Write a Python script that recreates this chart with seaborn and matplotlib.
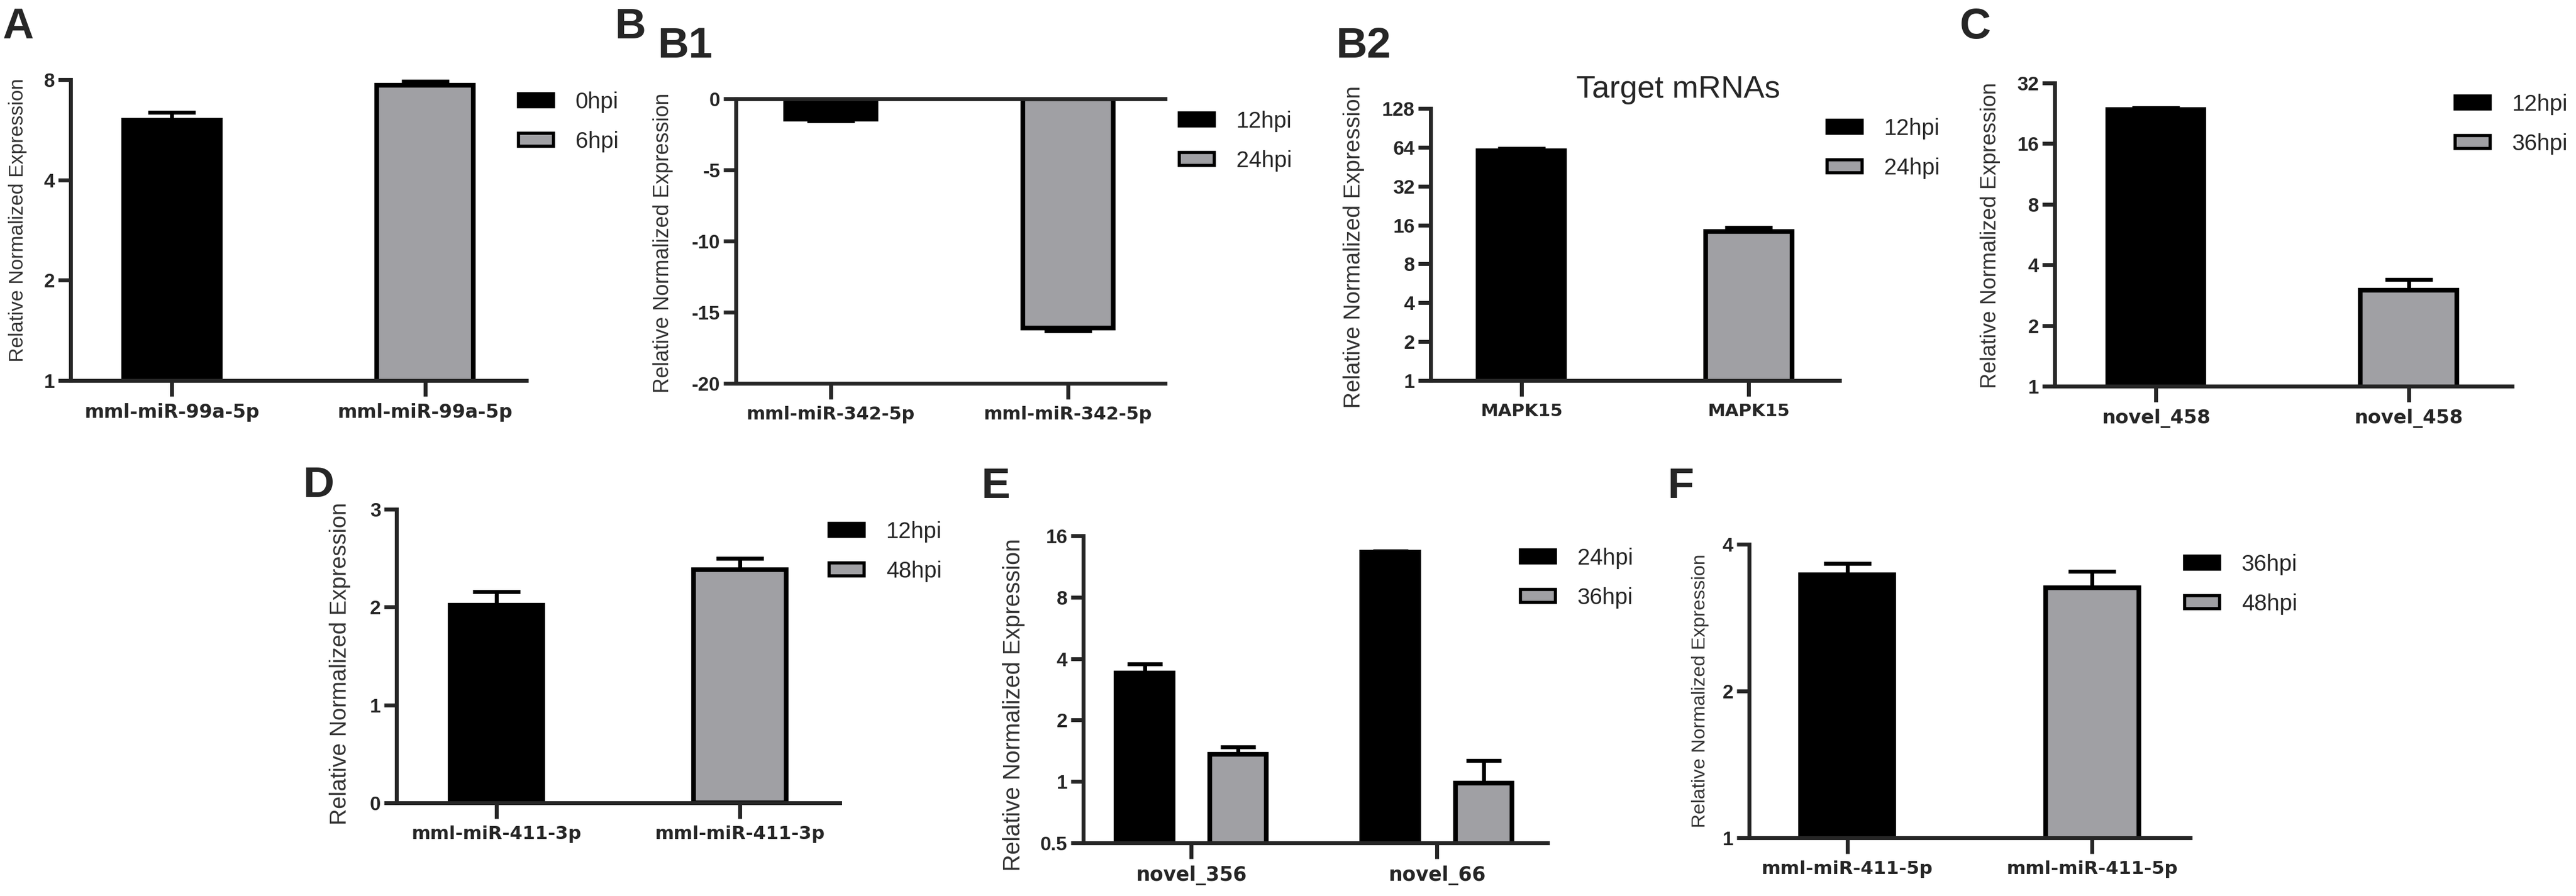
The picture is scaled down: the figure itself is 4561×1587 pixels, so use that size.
import pandas as pd
import seaborn as sns
import matplotlib.pyplot as plt
from matplotlib.patches import Patch
from matplotlib.ticker import NullLocator

# values (relative normalized expression, mean and upper SD)
a_genes = ['mml-miR-99a-5p', 'mml-miR-99a-5p']
a_times = ['0hpi', '6hpi']
a_vals = [6.05, 7.7]
a_err = [0.33, 0.2]
a_ticks = [1, 2, 4, 8]

b1_genes = ['mml-miR-342-5p', 'mml-miR-342-5p']
b1_times = ['12hpi', '24hpi']
b1_vals = [-1.42, -16.1]
b1_err = [0.14, 0.2]
b1_ticks = [-20, -15, -10, -5, 0]

b2_genes = ['MAPK15', 'MAPK15']
b2_times = ['12hpi', '24hpi']
b2_vals = [60.4, 14.2]
b2_err = [2.4, 1.1]
b2_ticks = [1, 2, 4, 8, 16, 32, 64, 128]

c_genes = ['novel_458', 'novel_458']
c_times = ['12hpi', '36hpi']
c_vals = [23.6, 3.0]
c_err = [0.5, 0.39]
c_ticks = [1, 2, 4, 8, 16, 32]

d_genes = ['mml-miR-411-3p', 'mml-miR-411-3p']
d_times = ['12hpi', '48hpi']
d_vals = [2.02, 2.38]
d_err = [0.14, 0.12]
d_ticks = [0, 1, 2, 3]

e_genes = ['novel_356', 'novel_66']
e_times = ['24hpi', '36hpi']
e_vals_24 = [3.40, 13.3]
e_err_24 = [0.36, 0.2]
e_vals_36 = [1.36, 0.98]
e_err_36 = [0.115, 0.29]
e_ticks = [0.5, 1, 2, 4, 8, 16]

f_genes = ['mml-miR-411-5p', 'mml-miR-411-5p']
f_times = ['36hpi', '48hpi']
f_vals = [3.46, 3.26]
f_err = [0.19, 0.26]
f_ticks = [1, 2, 4]

BLACK = '#000000'
GRAY = '#a0a0a4'
W, H = 4561, 1587

sns.set_style('white')
plt.rcParams['font.family'] = ['Liberation Sans', 'DejaVu Sans']

fig = plt.figure(figsize=(W / 100, H / 100), dpi=100)


def px_rect(left, right, top, bottom):
    return [left / W, 1 - bottom / H, (right - left) / W, (bottom - top) / H]


def panel(rect, df, x, order, hue_order, xlabels, ticks, log, xlim, width=0.38, gap=0,
          cap=30, xt_size=24, yt_size=25, ylab=None, leg=None, top_line=False):
    ax = fig.add_axes(rect)
    sns.barplot(data=df, x=x, y='value', hue='time', order=order, hue_order=hue_order,
                palette=[BLACK, GRAY], edgecolor='black', linewidth=6, width=width,
                gap=gap, errorbar=None, legend=False, ax=ax)
    # one-sided SD bars, pointing away from zero
    for cont, t in zip(ax.containers, hue_order):
        for bar in cont:
            xc = bar.get_x() + bar.get_width() / 2
            idx = int(round(xc))
            row = df[(df[x] == order[idx]) & (df['time'] == t)].iloc[0]
            top = bar.get_y() + bar.get_height()
            yerr = [[0], [row['err']]] if top > 0 else [[row['err']], [0]]
            ax.errorbar([xc], [top], yerr=yerr, fmt='none', ecolor='black',
                        elinewidth=5, capsize=cap, capthick=5, zorder=3)
    if log:
        ax.set_yscale('log', base=2)
    ax.set_ylim(ticks[0], ticks[-1])
    ax.set_yticks(ticks)
    ax.set_yticklabels([f'{t:g}' for t in ticks], fontweight='bold', fontsize=yt_size)
    ax.yaxis.set_minor_locator(NullLocator())
    ax.set_xlim(*xlim)
    ax.set_xticks(range(len(xlabels)))
    ax.set_xticklabels(xlabels, fontweight='bold', fontsize=xt_size,
                       family=['DejaVu Sans'])
    ax.set_xlabel('')
    ax.set_ylabel('')
    sns.despine(ax=ax, top=not top_line)
    for s in ['left', 'bottom', 'top']:
        ax.spines[s].set_linewidth(5)
    ax.tick_params(axis='y', length=16, width=5, pad=4, left=True)
    ax.tick_params(axis='x', length=20, width=5, pad=9, bottom=True)
    if ylab is not None:
        fig.text(ylab[0] / W, 1 - ylab[1] / H, 'Relative Normalized Expression', rotation=90,
                 ha='center', va='center', fontsize=ylab[2], color='#333333')
    if leg is not None:
        handles = [Patch(facecolor=c, edgecolor='black', linewidth=4) for c in [BLACK, GRAY]]
        ax.legend(handles, hue_order, loc='center left',
                  bbox_to_anchor=(leg[0] / W, 1 - leg[1] / H), bbox_transform=fig.transFigure,
                  frameon=False, fontsize=29, handlelength=1.55, handleheight=0.5,
                  handletextpad=0.95, labelspacing=0.8, borderpad=0, borderaxespad=0)
    return ax


def single_df(times, vals, errs):
    return pd.DataFrame({'time': times, 'value': vals, 'err': errs})


# A
panel(px_rect(125, 932, 141, 674), single_df(a_times, a_vals, a_err), 'time', a_times, a_times,
      a_genes, a_ticks, True, (-0.40, 1.40), xt_size=24, ylab=(32, 390, 25.5), leg=(918, 216))

# B1
panel(px_rect(1303, 2063, 175, 679), single_df(b1_times, b1_vals, b1_err), 'time', b1_times,
      b1_times, b1_genes, b1_ticks, False, (-0.40, 1.41), xt_size=23, ylab=(1174, 430, 27),
      leg=(2088, 250), top_line=True)

# B2
panel(px_rect(2533, 3257, 192, 674), single_df(b2_times, b2_vals, b2_err), 'time', b2_times,
      b2_times, b2_genes, b2_ticks, True, (-0.40, 1.40), xt_size=22.5, ylab=(2397, 437, 29),
      leg=(3235, 263))
fig.text(2971 / W, 1 - 159 / H, 'Target mRNAs', ha='center', va='center', fontsize=40)

# C
panel(px_rect(3638, 4448, 147, 684), single_df(c_times, c_vals, c_err), 'time', c_times, c_times,
      c_genes, c_ticks, True, (-0.40, 1.41), xt_size=24.5, ylab=(3524, 417, 27.5),
      leg=(4347, 220))

# D
panel(px_rect(702, 1487, 902, 1422), single_df(d_times, d_vals, d_err), 'time', d_times, d_times,
      d_genes, d_ticks, False, (-0.41, 1.41), xt_size=23.3, ylab=(602, 1175, 29), leg=(1468, 977))

# E
e_df = pd.DataFrame({
    'gene': e_genes + e_genes,
    'time': [e_times[0]] * 2 + [e_times[1]] * 2,
    'value': e_vals_24 + e_vals_36,
    'err': e_err_24 + e_err_36,
})
panel(px_rect(1918, 2740, 949, 1493), e_df, 'gene', e_genes, e_times, e_genes, e_ticks, True,
      (-0.44, 1.45), width=0.76, gap=0.39, cap=22, xt_size=25, ylab=(1795, 1248, 30),
      leg=(2692, 1024))

# F
panel(px_rect(3097, 3878, 964, 1484), single_df(f_times, f_vals, f_err), 'time', f_times, f_times,
      f_genes, f_ticks, True, (-0.40, 1.40), xt_size=23.4, ylab=(3010, 1224, 24.7),
      leg=(3868, 1035))

# panel letters (baseline positions)
for lab, lx, ly in [('A', 4, 68), ('B', 1089, 68), ('B1', 1165, 102), ('B2', 2366, 102),
                    ('C', 3470, 68), ('D', 537, 880), ('E', 1738, 882), ('F', 2953, 882)]:
    fig.text(lx / W, 1 - ly / H, lab, fontsize=55, fontweight='bold', ha='left', va='baseline')

fig.savefig('out.png', dpi=100)
